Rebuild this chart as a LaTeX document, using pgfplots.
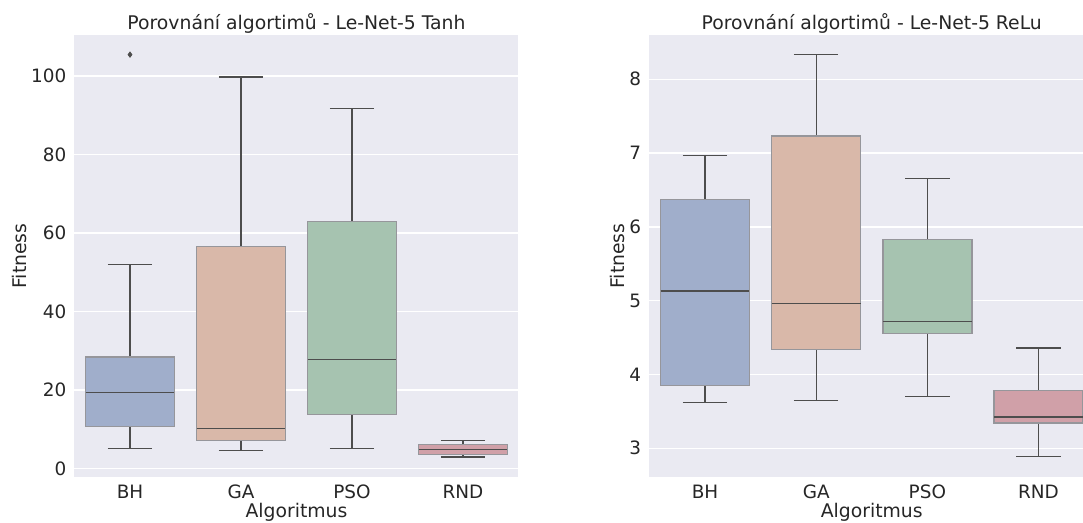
\documentclass[border=0pt]{standalone}
\usepackage{fontspec}
\setmainfont{DejaVu Sans}
\usepackage{pgfplots}
\pgfplotsset{compat=1.18}
\usepgfplotslibrary{statistics}
\definecolor{bgc}{RGB}{234,234,242}
\definecolor{cBH}{RGB}{160,174,203}
\definecolor{cGA}{RGB}{217,184,169}
\definecolor{cPSO}{RGB}{166,195,176}
\definecolor{cRND}{RGB}{208,160,168}
\definecolor{edgec}{RGB}{150,150,155}
\definecolor{whc}{RGB}{77,77,77}
\definecolor{txtc}{RGB}{38,38,38}
\pgfplotsset{
  sbstyle/.style={
    scale only axis,
    axis background/.style={fill=bgc},
    axis line style={draw=none},
    major tick length=0pt,
    ymajorgrids,
    xmajorgrids=false,
    grid style={white, line width=0.7pt},
    tick label style={font=\fontsize{9.2}{11}\selectfont, text=txtc},
    label style={font=\fontsize{9.4}{11.3}\selectfont, text=txtc},
    every axis title shift=0pt,
    title style={font=\fontsize{9.4}{11.3}\selectfont, text=txtc, anchor=base, inner sep=0pt, yshift=2.5pt},
    /pgf/number format/assume math mode=true,
    xtick={0,1,2,3},
    xticklabels={BH,GA,PSO,RND},
    xticklabel style={anchor=base, inner sep=0pt, yshift=-10.7pt},
    yticklabel style={anchor=east, inner sep=0pt, xshift=-3.9pt},
    xmin=-0.5,
    boxplot/draw direction=y,
    boxplot/box extend=0.8,
    boxplot/whisker extend=0.4,
    boxplot/every box/.style={draw=edgec, line width=0.7pt},
    boxplot/every whisker/.style={draw=whc, line width=0.6pt},
    boxplot/every median/.style={draw=whc, line width=0.7pt},
  },
}
\begin{document}
\begin{tikzpicture}
\path[use as bounding box] (0,0) rectangle (541.5pt,261.5pt);
% Left axis
\begin{axis}[sbstyle,
  at={(37.25pt,23pt)}, anchor=south west,
  width=222pt, height=221pt,
  xmax=3.5,
  ymin=-2.2, ymax=110.4,
  ytick={0,20,40,60,80,100},
  title={Porovnání algortimů - Le-Net-5 Tanh},
  title style={at={(axis description cs:0.5,1)}},
  xlabel={Algoritmus},
  xlabel style={at={(axis description cs:0.5,0)}, anchor=base, yshift=-20.5pt},
  ylabel={Fitness},
  ylabel style={at={(axis description cs:0,0.5)}, anchor=base, yshift=23.9pt},
]
\addplot[fill=cBH, draw=edgec, mark=diamond*, mark size=1.3pt, mark options={fill=whc, draw=whc},
  boxplot prepared={draw position=0, lower whisker=5.0, lower quartile=10.6, median=19.3, upper quartile=28.4, upper whisker=52.0}]
  coordinates {(0,105.4)};
\addplot[fill=cGA, draw=edgec,
  boxplot prepared={draw position=1, lower whisker=4.5, lower quartile=7.1, median=10.1, upper quartile=56.5, upper whisker=99.7}]
  coordinates {};
\addplot[fill=cPSO, draw=edgec,
  boxplot prepared={draw position=2, lower whisker=5.0, lower quartile=13.7, median=27.8, upper quartile=62.9, upper whisker=91.7}]
  coordinates {};
\addplot[fill=cRND, draw=edgec,
  boxplot prepared={draw position=3, lower whisker=2.9, lower quartile=3.6, median=4.8, upper quartile=6.1, upper whisker=7.1}]
  coordinates {};
\end{axis}
% Right axis
\begin{axis}[sbstyle,
  at={(324.7pt,23pt)}, anchor=south west,
  width=216.8pt, height=221pt,
  xmax=3.4,
  ymin=2.611, ymax=8.60,
  ytick={3,4,5,6,7,8},
  title={Porovnání algortimů - Le-Net-5 ReLu},
  title style={at={(axis description cs:0.5127,1)}},
  xlabel={Algoritmus},
  xlabel style={at={(axis description cs:0.5127,0)}, anchor=base, yshift=-20.5pt},
  ylabel={Fitness},
  ylabel style={at={(axis description cs:0,0.5)}, anchor=base, yshift=12.7pt},
]
\addplot[fill=cBH, draw=edgec,
  boxplot prepared={draw position=0, lower whisker=3.618, lower quartile=3.848, median=5.131, upper quartile=6.374, upper whisker=6.965}]
  coordinates {};
\addplot[fill=cGA, draw=edgec,
  boxplot prepared={draw position=1, lower whisker=3.645, lower quartile=4.339, median=4.959, upper quartile=7.232, upper whisker=8.339}]
  coordinates {};
\addplot[fill=cPSO, draw=edgec,
  boxplot prepared={draw position=2, lower whisker=3.699, lower quartile=4.558, median=4.716, upper quartile=5.832, upper whisker=6.659}]
  coordinates {};
\addplot[fill=cRND, draw=edgec,
  boxplot prepared={draw position=3, lower whisker=2.886, lower quartile=3.343, median=3.424, upper quartile=3.781, upper whisker=4.359}]
  coordinates {};
\end{axis}
\end{tikzpicture}
\end{document}
